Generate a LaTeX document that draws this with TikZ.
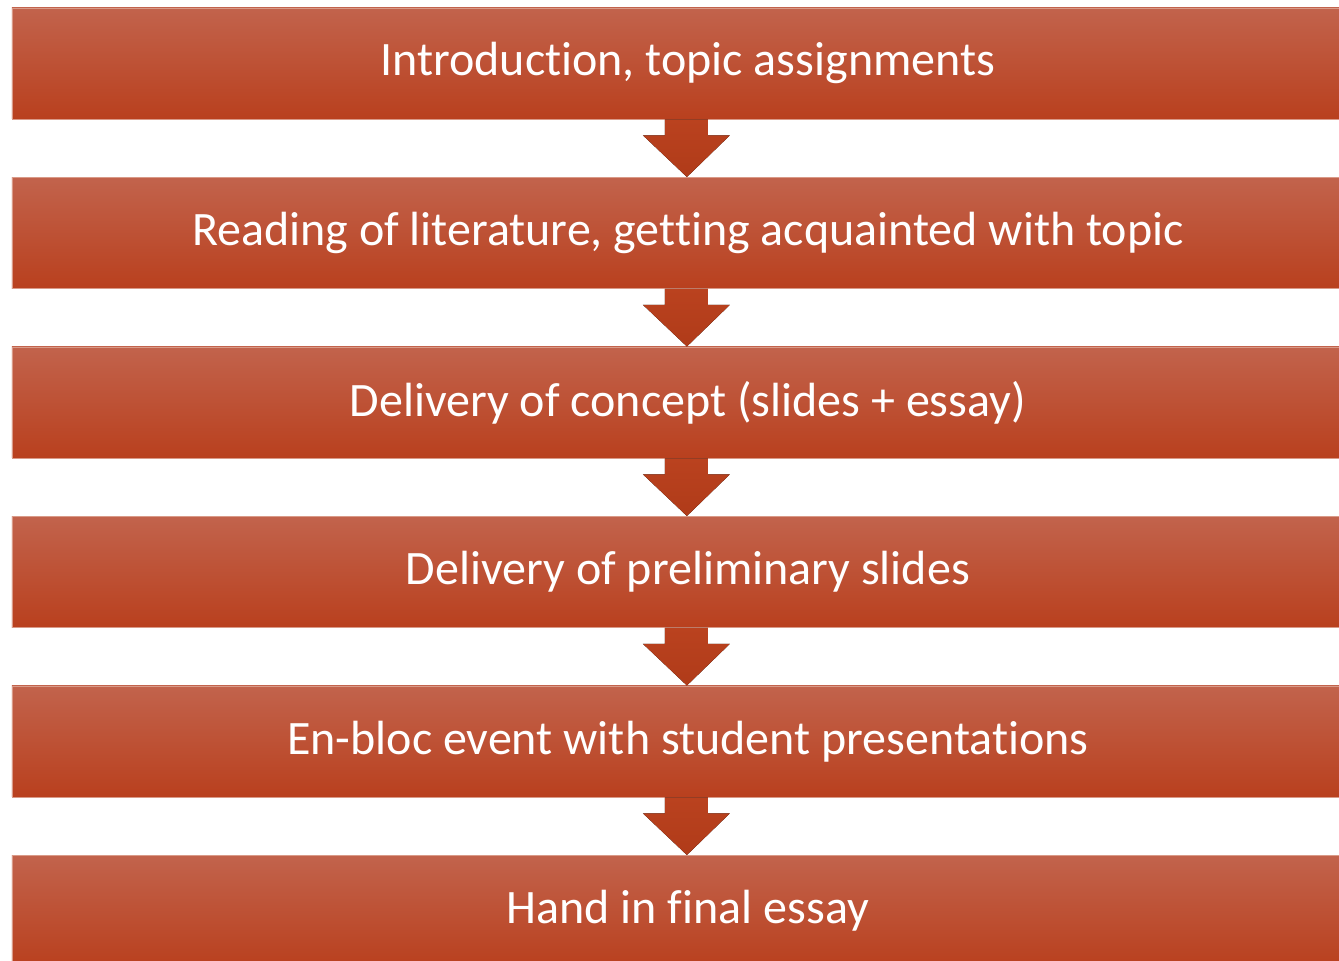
\documentclass[tikz,border=0pt]{standalone}
\usepackage{fontspec}
\setmainfont[Ligatures=NoCommon]{Carlito}
\usetikzlibrary{calc}
\definecolor{boxtop}{HTML}{C2634C}
\definecolor{boxbot}{HTML}{B9401E}
\definecolor{arrtop}{HTML}{BA421F}
\definecolor{arrbot}{HTML}{B03B19}
\definecolor{edge}{HTML}{D99A88}
\tikzset{
  stepbox/.style={rectangle, minimum width=1352pt, minimum height=111pt, inner sep=0pt,
    top color=boxtop, bottom color=boxbot, draw=edge, line width=0.8pt,
    text=white, font=\fontsize{48pt}{54pt}\selectfont, anchor=north west},
  flowarrow/.style={top color=arrtop, bottom color=arrbot, draw=none}
}
\begin{document}
\begin{tikzpicture}[x=1pt,y=-1pt]
\clip (0,0) rectangle (1339,961);
\fill[white] (0,0) rectangle (1339,961);
\node[stepbox] (b1) at (11.5,7.5) {\raisebox{-2pt}{Introduction, topic assignments}};
\node[stepbox] (b2) at (11.5,177) {\raisebox{-2pt}{Reading of literature, getting acquainted with topic}};
\node[stepbox] (b3) at (11.5,346.5) {\raisebox{-2pt}{Delivery of concept (slides + essay)}};
\node[stepbox] (b4) at (11.5,516) {\raisebox{-2pt}{Delivery of preliminary slides}};
\node[stepbox] (b5) at (11.5,685.5) {\raisebox{-2pt}{En-bloc event with student presentations}};
\node[stepbox] (b6) at (11.5,855) {\raisebox{-2pt}{Hand in final essay}};
\foreach \a/\b in {b1/b2,b2/b3,b3/b4,b4/b5,b5/b6}{
  \coordinate (t) at ($(\a.south)+(-1,0)$);
  \coordinate (h) at ($(\b.north)+(-1,0)$);
  \fill[flowarrow] ($(t)+(-22,0)$) -- ($(t)+(-22,16)$) -- ($(t)+(-44,16)$) -- (h)
     -- ($(t)+(43,16)$) -- ($(t)+(21,16)$) -- ($(t)+(21,0)$) -- cycle;
}
\end{tikzpicture}
\end{document}
